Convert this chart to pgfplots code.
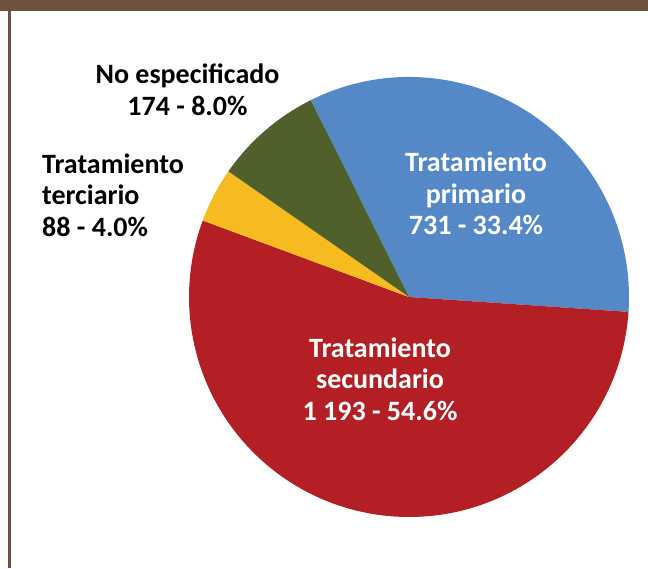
\documentclass[border=0pt]{standalone}
\usepackage{pgfplots}
\usepackage{pgfplotstable}
\pgfplotsset{compat=1.18}
\usepackage{fontspec}
\setmainfont{Carlito}
\definecolor{cblue}{RGB}{84,136,199}
\definecolor{cred}{RGB}{180,31,38}
\definecolor{cyellow}{RGB}{246,187,30}
\definecolor{cgreen}{RGB}{79,96,42}
\definecolor{cbrown}{RGB}{112,82,64}
\pgfplotstableread{
label value
primario 731
secundario 1193
terciario 88
noesp 174
}\datatable
\begin{document}
\begin{tikzpicture}[x=1pt,y=1pt]
\useasboundingbox (0,0) rectangle (648,568);
\pgfplotstablegetelem{0}{value}\of\datatable \let\vA\pgfplotsretval
\pgfplotstablegetelem{1}{value}\of\datatable \let\vB\pgfplotsretval
\pgfplotstablegetelem{2}{value}\of\datatable \let\vC\pgfplotsretval
\pgfplotstablegetelem{3}{value}\of\datatable \let\vD\pgfplotsretval
\pgfmathsetmacro{\tot}{\vA+\vB+\vC+\vD}
\pgfmathsetmacro{\aO}{116.5}
\pgfmathsetmacro{\aA}{\aO-360*(\vA/\tot)}
\pgfmathsetmacro{\aB}{\aA-360*(\vB/\tot)}
\pgfmathsetmacro{\aC}{\aB-360*(\vC/\tot)}
\pgfmathsetmacro{\aD}{\aC-360*(\vD/\tot)}
\begin{axis}[
  at={(0,0)}, anchor=south west,
  scale only axis, width=648pt, height=568pt,
  xmin=-409, xmax=239, ymin=-271, ymax=297,
  hide axis, clip=false,
]
\addplot[draw=none] coordinates {(0,0)};
\fill[cblue] (axis cs:0,0) -- (axis cs:{220*cos(\aO)},{220*sin(\aO)}) arc[start angle=\aO, end angle=\aA, radius=220pt] -- cycle;
\fill[cred] (axis cs:0,0) -- (axis cs:{220*cos(\aA)},{220*sin(\aA)}) arc[start angle=\aA, end angle=\aB, radius=220pt] -- cycle;
\fill[cyellow] (axis cs:0,0) -- (axis cs:{220*cos(\aB)},{220*sin(\aB)}) arc[start angle=\aB, end angle=\aC, radius=220pt] -- cycle;
\fill[cgreen] (axis cs:0,0) -- (axis cs:{220*cos(\aC)},{220*sin(\aC)}) arc[start angle=\aC, end angle=\aD, radius=220pt] -- cycle;
\begin{scope}[font=\fontsize{28}{31.5}\selectfont\bfseries]
\node[white, align=center] at (axis cs:67,103.5) {Tratamiento\\primario\\731 - 33.4\%};
\node[white, align=center] at (axis cs:-29,-82) {Tratamiento\\secundario\\1 193 - 54.6\%};
\node[black, align=center] at (axis cs:-221.5,207) {No especificado\\174 - 8.0\%};
\node[black, align=left, anchor=west, inner sep=0pt] at (axis cs:-367,102) {Tratamiento\\terciario\\88 - 4.0\%};
\end{scope}
\end{axis}
\fill[cbrown] (0,557) rectangle (648,568);
\fill[cbrown] (8,0) rectangle (10.5,568);
\end{tikzpicture}
\end{document}
